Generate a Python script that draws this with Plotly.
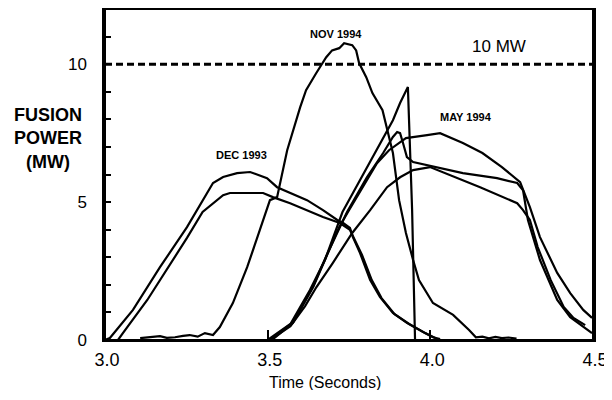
import plotly.graph_objects as go

# DEC 1993, two shots
dec_a_t = [3.0, 3.015, 3.086, 3.169, 3.252, 3.30, 3.332, 3.363, 3.406, 3.446, 3.498, 3.529, 3.569,
           3.621, 3.67, 3.714, 3.732, 3.753, 3.762, 3.784, 3.815, 3.845, 3.885, 3.928, 3.978, 4.008, 4.03]
dec_a_p = [0.0, 0.07, 1.09, 2.64, 4.09, 5.07, 5.69, 5.91, 6.05, 6.09, 5.87, 5.54, 5.33,
           5.07, 4.71, 4.35, 4.24, 4.06, 3.73, 3.15, 2.17, 1.56, 0.98, 0.62, 0.29, 0.10, 0.03]

dec_b_t = [3.04, 3.055, 3.13, 3.21, 3.252, 3.30, 3.363, 3.384, 3.486, 3.516, 3.569, 3.67, 3.722,
           3.753, 3.768, 3.79, 3.82, 3.85, 3.89, 3.935, 3.984, 4.015]
dec_b_p = [0.0, 0.25, 1.45, 2.9, 3.7, 4.64, 5.25, 5.33, 5.33, 5.18, 4.96, 4.46, 4.24,
           3.99, 3.62, 3.08, 2.17, 1.52, 0.94, 0.58, 0.25, 0.07]

# NOV 1994
nov_t = [3.108, 3.14, 3.169, 3.19, 3.215, 3.24, 3.26, 3.285, 3.307, 3.332, 3.353, 3.393, 3.437,
         3.476, 3.507, 3.529, 3.56, 3.60, 3.618, 3.649, 3.68, 3.698, 3.72, 3.735, 3.76, 3.772,
         3.781, 3.803, 3.822, 3.853, 3.885, 3.904, 3.925, 3.947, 3.965, 4.008, 4.07, 4.119,
         4.14, 4.16, 4.18, 4.20, 4.22, 4.24, 4.265]
nov_p = [0.07, 0.1, 0.14, 0.08, 0.1, 0.15, 0.18, 0.12, 0.25, 0.18, 0.47, 1.34, 2.64,
         3.99, 5.07, 5.18, 6.88, 8.44, 9.06, 9.67, 10.25, 10.5, 10.58, 10.76, 10.69, 10.5,
         10.04, 9.53, 8.95, 8.33, 6.78, 5.07, 3.88, 2.9, 2.17, 1.34, 0.91, 0.36,
         0.1, 0.12, 0.06, 0.11, 0.07, 0.09, 0.05]

# MAY 1994, labelled shot
may_t = [3.513, 3.578, 3.64, 3.68, 3.72, 3.75, 3.836, 3.873, 3.925, 3.99, 4.03, 4.10, 4.16,
         4.22, 4.276, 4.306, 4.337, 4.39, 4.43, 4.47, 4.497]
may_p = [0.0, 0.62, 1.92, 3.0, 4.1, 4.71, 6.41, 6.88, 7.32, 7.43, 7.5, 7.14, 6.78,
         6.27, 5.72, 4.82, 3.73, 2.43, 1.70, 1.09, 0.8]

# shot peaking near 7.6 MW
pk_t = [3.507, 3.578, 3.64, 3.68, 3.744, 3.805, 3.855, 3.885, 3.898, 3.907, 3.916, 3.928, 3.947,
        3.99, 4.03, 4.10, 4.205, 4.267, 4.285, 4.30, 4.337, 4.39, 4.43, 4.47, 4.497]
pk_p = [0.0, 0.65, 1.96, 3.04, 4.64, 5.9, 6.78, 7.36, 7.54, 7.5, 7.14, 6.63, 6.45,
        6.34, 6.23, 6.05, 5.87, 5.69, 5.43, 4.35, 2.9, 1.45, 0.83, 0.47, 0.25]

# slower rising shot
slow_t = [3.507, 3.57, 3.615, 3.65, 3.70, 3.76, 3.815, 3.867, 3.907, 3.947, 3.999, 4.06, 4.153,
          4.267, 4.285, 4.306, 4.33, 4.37, 4.41, 4.44, 4.476]
slow_p = [0.0, 0.5, 1.23, 1.92, 2.79, 3.88, 4.71, 5.54, 5.9, 6.16, 6.27, 5.98, 5.54,
          4.96, 4.71, 4.35, 3.37, 2.17, 1.2, 0.8, 0.54]

# disrupted shot
dis_t = [3.50, 3.57, 3.63, 3.676, 3.73, 3.784, 3.836, 3.885, 3.907, 3.922, 3.931, 3.944, 3.953, 3.953]
dis_p = [0.0, 0.58, 1.81, 2.9, 4.64, 5.8, 6.88, 7.97, 8.59, 8.95, 9.17, 4.71, 0.07, 0.0]

ref_t = [3.0, 4.5]
ref_p = [10, 10]

fig = go.Figure()

for t, p in [(dec_a_t, dec_a_p), (dec_b_t, dec_b_p), (nov_t, nov_p), (may_t, may_p),
             (pk_t, pk_p), (slow_t, slow_p), (dis_t, dis_p)]:
    fig.add_trace(go.Scatter(x=t, y=p, mode="lines",
                             line=dict(color="black", width=2.2), hoverinfo="skip"))

fig.add_trace(go.Scatter(x=ref_t, y=ref_p, mode="lines",
                         line=dict(color="black", width=3, dash="7px,4px"), hoverinfo="skip"))

font = "Liberation Sans, Arial, sans-serif"

# the page body has an 8px margin, so the figure is sized to fit the window after it
fig.update_layout(
    width=604, height=382,
    margin=dict(l=97, r=19, t=1, b=50),
    paper_bgcolor="white", plot_bgcolor="white",
    showlegend=False,
    font=dict(family=font, color="black"),
)

fig.update_xaxes(
    range=[3.0, 4.5], tickvals=[3.0, 3.5, 4.0, 4.5], ticktext=["3.0", "3.5", "4.0", "4.5"],
    ticks="inside", ticklen=10, tickwidth=2, tickcolor="black",
    showline=True, linecolor="black", linewidth=2, mirror=True,
    showgrid=False, zeroline=False, automargin=False,
    tickfont=dict(size=18), ticklabelshift=2, ticklabelstandoff=2,
)
fig.update_yaxes(
    range=[0, 12], tickvals=[0, 5, 10],
    ticks="inside", ticklen=6, tickwidth=2, tickcolor="black",
    minor=dict(dtick=1, ticks="inside", ticklen=6, tickwidth=2, tickcolor="black"),
    showline=True, linecolor="black", linewidth=2.5, mirror=True,
    showgrid=False, zeroline=False, automargin=False,
    tickfont=dict(size=17), ticklabelstandoff=12,
)

# plot frame
fig.add_shape(type="rect", xref="paper", yref="paper", x0=0, x1=1, y0=0, y1=1,
              line=dict(color="black", width=2), layer="above")

fig.add_annotation(x=3.71, y=11.1, text="<b>NOV 1994</b>", showarrow=False, font=dict(size=11))
fig.add_annotation(x=4.21, y=10.65, text="10 MW", showarrow=False, font=dict(size=17))
fig.add_annotation(x=4.11, y=8.08, text="<b>MAY 1994</b>", showarrow=False, font=dict(size=11))
fig.add_annotation(x=3.42, y=6.7, text="<b>DEC 1993</b>", showarrow=False, font=dict(size=11))
fig.add_annotation(x=-0.117, y=0.61, xref="paper", yref="paper",
                   xanchor="center", yanchor="middle",
                   text="<b>FUSION<br>POWER<br>(MW)</b>", showarrow=False,
                   font=dict(size=18), align="center")
fig.add_annotation(x=0.451, y=-0.127, xref="paper", yref="paper",
                   xanchor="center", yanchor="middle",
                   text="Time (Seconds)", showarrow=False, font=dict(size=16))

fig.write_html("out.html")
